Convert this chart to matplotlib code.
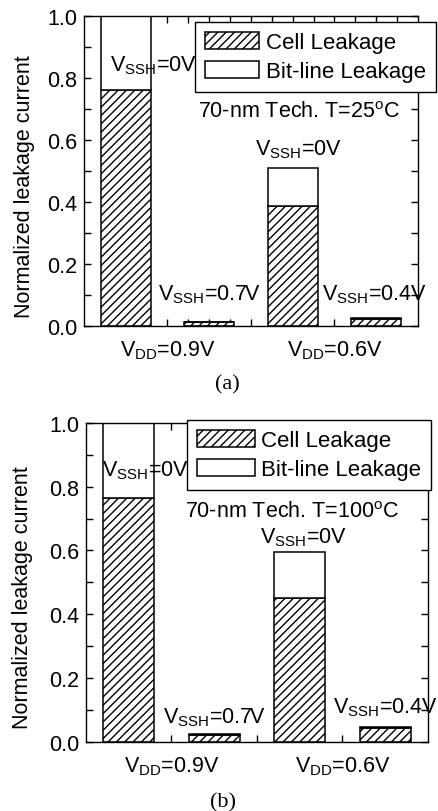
import matplotlib
matplotlib.use("Agg")
import matplotlib.pyplot as plt
from matplotlib.ticker import FixedLocator, MultipleLocator
from matplotlib.patches import Patch

plt.rcParams['font.family'] = ['Liberation Sans', 'DejaVu Sans']
plt.rcParams['mathtext.fontset'] = 'custom'
plt.rcParams['mathtext.rm'] = 'Liberation Sans'
plt.rcParams['mathtext.it'] = 'Liberation Sans:italic'
plt.rcParams['hatch.linewidth'] = 1.0
plt.rcParams['font.size'] = 15.5

# Data
positions = [1, 2, 3, 4]
vdd_labels = [r'V$_{\rm DD}$=0.9V', '', r'V$_{\rm DD}$=0.6V']
vssh_labels = [r'V$_{\rm SSH}$=0V', r'V$_{\rm SSH}$=0.7V', r'V$_{\rm SSH}$=0V', r'V$_{\rm SSH}$=0.4V']

cell_25 = [0.762, 0.012, 0.386, 0.022]
bit_25 = [0.238, 0.002, 0.123, 0.004]
cell_100 = [0.765, 0.020, 0.451, 0.042]
bit_100 = [0.235, 0.004, 0.143, 0.005]

# label anchors (x, y baseline) in data units
lbl_xy_25 = [(0.81, 0.824), (1.39, 0.087), (2.55, 0.555), (3.35, 0.087)]
lbl_xy_100 = [(0.69, 0.837), (1.40, 0.061), (2.535, 0.626), (3.39, 0.092)]

HATCH = '////'

fig = plt.figure(figsize=(4.39, 8.12), dpi=100)


def panel(rect, cell, bit, lbl_xy, title, title_xy, leg_anchor, handlelen, caption, cap_xy, ylab_xy):
    ax = fig.add_axes(rect)
    ax.bar(positions, cell, width=0.6, bottom=0, color='white', edgecolor='black',
           hatch=HATCH, linewidth=1.1, zorder=2)
    ax.bar(positions, bit, width=0.6, bottom=cell, color='white', edgecolor='black',
           linewidth=1.1, zorder=2)
    ax.set_xlim(0.5, 4.5)
    ax.set_ylim(0, 1.0)

    ax.set_xticks([1.5, 2.5, 3.5])
    ax.set_xticklabels(vdd_labels)
    ax.xaxis.set_minor_locator(FixedLocator([0.75 + 0.25 * i for i in range(15)]))
    ax.yaxis.set_minor_locator(MultipleLocator(0.1))
    ax.set_yticks([0, 0.2, 0.4, 0.6, 0.8, 1.0])
    ax.set_yticklabels(['0.0', '0.2', '0.4', '0.6', '0.8', '1.0'])
    ax.tick_params(which='both', direction='in', top=True, right=True, length=5, width=1)
    ax.tick_params(axis='x', which='major', pad=9)
    ax.tick_params(axis='y', which='major', pad=5)
    for s in ax.spines.values():
        s.set_linewidth(1.0)
        s.set_zorder(3)

    ax.set_ylabel('Normalized leakage current')
    ax.yaxis.set_label_coords(*ylab_xy)

    for (x, y), t in zip(lbl_xy, vssh_labels):
        ax.text(x, y, t, ha='left', va='baseline', zorder=4)
    ax.text(title_xy[0], title_xy[1], title, ha='left', va='baseline')

    handles = [Patch(facecolor='white', edgecolor='black', hatch=HATCH, linewidth=1.1),
               Patch(facecolor='white', edgecolor='black', linewidth=1.1)]
    leg = fig.legend(handles, ['Cell Leakage', 'Bit-line Leakage'], loc='upper left',
                     bbox_to_anchor=leg_anchor, bbox_transform=fig.transFigure,
                     fancybox=False, framealpha=1, edgecolor='black', fontsize=16,
                     handlelength=handlelen, handleheight=0.8, handletextpad=0.3,
                     labelspacing=0.33, borderpad=0.45, borderaxespad=0)
    leg.get_frame().set_linewidth(1.0)

    fig.text(cap_xy[0], cap_xy[1], caption, family='Liberation Serif', fontsize=16,
             ha='center', va='center')
    return ax


panel([84 / 439, 1 - 327 / 812, 334 / 439, 310 / 812], cell_25, bit_25, lbl_xy_25,
      r'70-nm Tech. T=25$^{\rm o}$C', (1.865, 0.673),
      (195 / 439, 1 - 23 / 812), 2.45, '(a)', (227 / 439, 1 - 385 / 812), (-0.147, 0.452))

panel([86 / 439, 1 - 742.7 / 812, 342 / 439, 318.7 / 812], cell_100, bit_100, lbl_xy_100,
      r'70-nm Tech. T=100$^{\rm o}$C', (1.66, 0.704),
      (187 / 439, 1 - 421 / 812), 2.6, '(b)', (223 / 439, 1 - 803 / 812), (-0.155, 0.454))

fig.savefig('out.png', dpi=100)
